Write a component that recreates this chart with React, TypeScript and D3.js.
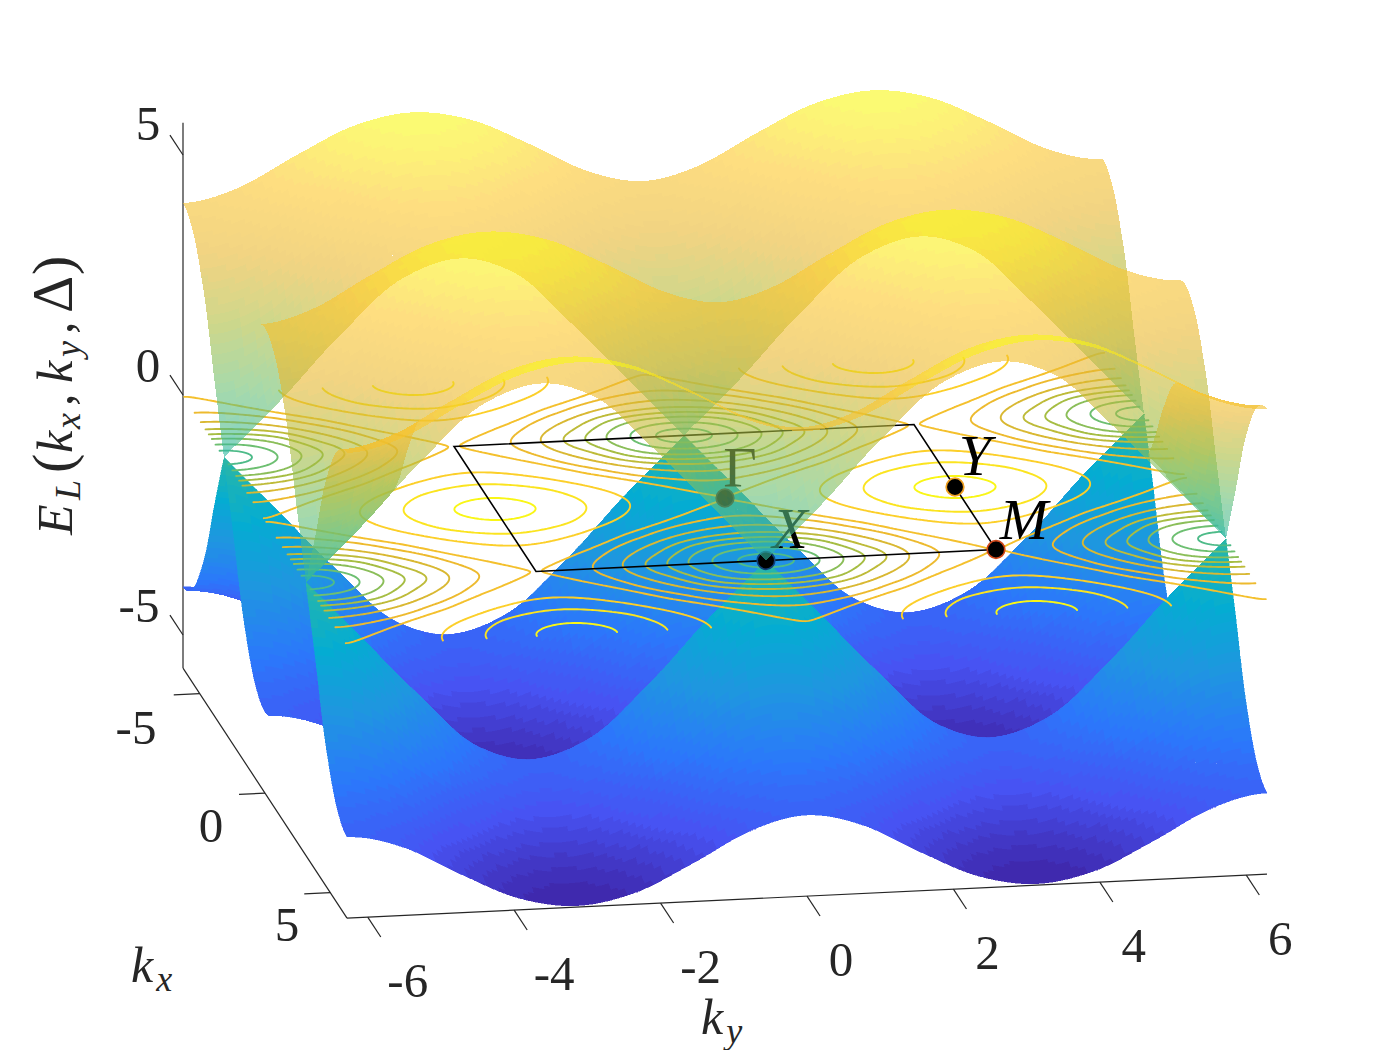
import React from "react";
import * as d3 from "d3";

const PI = Math.PI;
// Upper-band energy read from the picture over a quarter of the zone:
// rows kx = 0, pi/4 ... pi; columns ky = 0, pi/4 ... pi. The lower band mirrors it.
const BAND_ENERGY = [
  [4.0, 4.28, 4.9, 5.45, 5.66],
  [3.7, 4.0, 4.65, 5.23, 5.45],
  [2.83, 3.15, 3.9, 4.62, 4.9],
  [1.4, 1.9, 3.05, 3.95, 4.28],
  [0.0, 1.25, 2.5, 3.62, 4.0],
];
const CONTOUR_LEVELS = [0.6, 1.15, 1.68, 2.15, 2.6, 3.1, 3.62, 3.995, 4.69, 5.16, 5.55];
const KX_TICKS = [-5, 0, 5];
const KY_TICKS = [-6, -4, -2, 0, 2, 4, 6];
const Z_TICKS = [-5, 0, 5];
const BZ_CORNERS: [number, number][] = [[-PI, -PI], [-PI, PI], [PI, PI], [PI, -PI]];
const SYMMETRY_POINTS = [
  { name: "Γ", kx: 0, ky: 0, dx: 15, dy: -11, ring: "#2a2a2a", italic: false },
  { name: "X", kx: PI, ky: 0, dx: 24, dy: -13, ring: "#10407a", italic: true },
  { name: "Y", kx: 0, ky: PI, dx: 20, dy: -12, ring: "#f0a020", italic: true },
  { name: "M", kx: PI, ky: PI, dx: 28, dy: -11, ring: "#d0481a", italic: true },
];
const YLABEL_PARTS = [
  { s: "E", t: 0, sub: false, italic: true, size: 50 },
  { s: "L", t: 35, sub: true, italic: true, size: 36 },
  { s: "(", t: 62, sub: false, italic: false, size: 58 },
  { s: "k", t: 82, sub: false, italic: true, size: 50 },
  { s: "x", t: 106, sub: true, italic: true, size: 36 },
  { s: ",", t: 129, sub: false, italic: false, size: 50 },
  { s: "k", t: 152, sub: false, italic: true, size: 50 },
  { s: "y", t: 178, sub: true, italic: true, size: 36 },
  { s: ",", t: 201, sub: false, italic: false, size: 50 },
  { s: "Δ", t: 222, sub: false, italic: false, size: 58 },
  { s: ")", t: 260, sub: false, italic: false, size: 58 },
];
const PARULA = ["#3e26a8", "#4752f3", "#2b78fb", "#1f96e0", "#04acd2", "#2cb7a4", "#6cbf72", "#acbd3e", "#e9b62e", "#fdc82c", "#f9fb14"];

const ZMAX = 5.66;
const kxX = d3.scaleLinear([-2 * PI, 2 * PI], [-82, 82]);
const kxY = d3.scaleLinear([-2 * PI, 2 * PI], [-125, 125]);
const kyX = d3.scaleLinear([-2 * PI, 2 * PI], [-460, 460]);
const kyY = d3.scaleLinear([-2 * PI, 2 * PI], [22, -22]);
const zY = d3.scaleLinear([-5, 5], [240, -240]);
const project = (kx: number, ky: number, z: number): [number, number] => [
  725 + kxX(kx) + kyX(ky),
  498 + kxY(kx) + kyY(ky) + zY(z),
];

const parulaAt = d3.scaleLinear<string>(PARULA.map((_, i) => i / 10), PARULA).interpolate(d3.interpolateRgb);
const colorOf = (z: number) => {
  const t = (z + ZMAX) / (2 * ZMAX);
  const idx = Math.max(0, Math.min(63, Math.floor(t * 64)));
  return parulaAt((idx + 0.5) / 64);
};

const squared = BAND_ENERGY.map((r) => r.map((v) => v * v));
const mirror = (i: number) => {
  const m = ((i % 8) + 8) % 8;
  return m > 4 ? 8 - m : m;
};
const catmull = (a: number, b: number, c: number, d: number, t: number) =>
  0.5 * (2 * b + (c - a) * t + (2 * a - 5 * b + 4 * c - d) * t * t + (3 * b - a - 3 * c + d) * t * t * t);
const energy = (kx: number, ky: number) => {
  const u = kx / (PI / 4);
  const v = ky / (PI / 4);
  const iu = Math.floor(u + 1e-9);
  const iv = Math.floor(v + 1e-9);
  const tu = Math.max(0, u - iu);
  const tv = Math.max(0, v - iv);
  const rows = [-1, 0, 1, 2].map((di) => {
    const r = squared[mirror(iu + di)];
    return catmull(r[mirror(iv - 1)], r[mirror(iv)], r[mirror(iv + 1)], r[mirror(iv + 2)], tv);
  });
  return Math.sqrt(Math.max(0, catmull(rows[0], rows[1], rows[2], rows[3], tu)));
};

const N = 144;
const gridK = d3.range(N + 1).map((i) => -2 * PI + (4 * PI * i) / N);
const gridE = gridK.map((kx) => gridK.map((ky) => energy(kx, ky)));

type Face = { d: string; fill: string; depth: number };
const buildSheet = (sign: number): Face[] => {
  const faces: Face[] = [];
  const step = gridK[1] - gridK[0];
  for (let i = 0; i < N; i++) {
    for (let j = 0; j < N; j++) {
      const corners: [number, number][] = [[i, j], [i + 1, j], [i + 1, j + 1], [i, j + 1]];
      const zs = corners.map(([a, b]) => sign * gridE[a][b]);
      const pts = corners.map(([a, b], n) => project(gridK[a], gridK[b], zs[n]));
      let area = 0;
      for (let n = 0; n < 4; n++) {
        const p = pts[n];
        const q = pts[(n + 1) % 4];
        area += p[0] * q[1] - q[0] * p[1];
      }
      const kxm = gridK[i] + step / 2;
      const kym = gridK[j] + step / 2;
      // the reference keeps a rim of the far-side faces along ky = +-2pi
      const beyond = sign > 0 ? kxm - PI : -kxm - PI;
      const rim = beyond > 0 && 2 * PI - Math.abs(kym) < Math.min(3 * beyond, 1.1);
      if (area >= 0 && !rim) continue;
      const zm = d3.mean(zs) as number;
      faces.push({
        d: "M" + pts.map((p) => p[0].toFixed(2) + "," + p[1].toFixed(2)).join("L") + "Z",
        fill: colorOf(zm),
        depth: 3513.6 * kxm - 626.4 * kym + 1502.4 * zm,
      });
    }
  }
  return faces.sort((a, b) => a.depth - b.depth);
};
const lowerFaces = buildSheet(-1);
const upperFaces = buildSheet(1);

const contourPath = (level: number) => {
  const path = d3.path();
  const M = 288;
  const ks = d3.range(M + 1).map((i) => -2 * PI + (4 * PI * i) / M);
  const vals = ks.map((kx) => ks.map((ky) => energy(kx, ky)));
  const cross = (a: number, b: number, c: number, d: number): [number, number] | null => {
    const va = vals[a][b];
    const vb = vals[c][d];
    if ((va < level) === (vb < level)) return null;
    const t = (level - va) / (vb - va);
    return [ks[a] + t * (ks[c] - ks[a]), ks[b] + t * (ks[d] - ks[b])];
  };
  for (let i = 0; i < M; i++) {
    for (let j = 0; j < M; j++) {
      const hits = [cross(i, j, i + 1, j), cross(i + 1, j, i + 1, j + 1), cross(i + 1, j + 1, i, j + 1), cross(i, j + 1, i, j)].filter(Boolean) as [number, number][];
      for (let h = 0; h + 1 < hits.length; h += 2) {
        const p = project(hits[h][0], hits[h][1], 0);
        const q = project(hits[h + 1][0], hits[h + 1][1], 0);
        path.moveTo(p[0], p[1]);
        path.lineTo(q[0], q[1]);
      }
    }
  }
  return path.toString();
};
const contourPaths = CONTOUR_LEVELS.map((l) => ({ level: l, d: contourPath(l) }));

const FONT = "'Liberation Serif', serif";
const INK = "#262626";
const KMAX = 2 * PI;
const Z_LOW = -ZMAX - 0.03;
const Z_HIGH = ZMAX + 0.01;

const segment = (a: [number, number], b: [number, number]) => d3.line()([a, b]) as string;

export default function App() {
  const bz = d3.line()(BZ_CORNERS.map(([a, b]) => project(a, b, 0))) + "Z";
  return (
    <svg width={1400} height={1050} style={{ position: "absolute", left: 0, top: 0, background: "#fff" }} fontFamily={FONT}>
      <g fill="none" stroke={INK} strokeWidth={1.2}>
        <path d={segment(project(-KMAX, -KMAX, Z_HIGH), project(-KMAX, -KMAX, Z_LOW))} />
        <path d={segment(project(-KMAX, -KMAX, Z_LOW), project(KMAX, -KMAX, Z_LOW))} />
        <path d={segment(project(KMAX, -KMAX, Z_LOW), project(KMAX, KMAX, Z_LOW))} />
        {Z_TICKS.map((z) => (
          <path key={"z" + z} d={segment(project(-KMAX, -KMAX, z), project(-KMAX - 1, -KMAX, z))} />
        ))}
        {KX_TICKS.map((k) => (
          <path key={"kx" + k} d={segment(project(k, -KMAX, Z_LOW), project(k, -KMAX - 0.355, Z_LOW))} />
        ))}
        {KY_TICKS.map((k) => (
          <path key={"ky" + k} d={segment(project(KMAX, k, Z_LOW), project(KMAX + 1, k, Z_LOW))} />
        ))}
      </g>
      <g fontSize={49} fill={INK} textAnchor="middle">
        {Z_TICKS.map((z) => (
          <text key={z} x={z < 0 ? 139 : 148} y={z === 5 ? 140 : z === 0 ? 382 : 622}>{z}</text>
        ))}
        {KX_TICKS.map((k, i) => (
          <text key={k} x={[136, 211, 287][i]} y={[744, 842, 941][i]}>{k}</text>
        ))}
        {KY_TICKS.map((k) => {
          const [x, y] = project(KMAX, k, Z_LOW);
          return <text key={k} x={x + (k < 0 ? 40 : 34)} y={y + 80}>{k}</text>;
        })}
      </g>
      <g fontSize={50} fill={INK} fontStyle="italic">
        <text x={131} y={982}>k<tspan fontSize={36} dx={3} dy={9}>x</tspan></text>
        <text x={701} y={1034}>k<tspan fontSize={36} dx={3} dy={9}>y</tspan></text>
        <g transform="translate(72,535) rotate(-90)">
          {YLABEL_PARTS.map((p, i) => (
            <text key={i} x={p.t} y={p.sub ? 8 : 0} fontSize={p.size} fontStyle={p.italic ? "italic" : "normal"}>{p.s}</text>
          ))}
        </g>
      </g>
      <g shapeRendering="crispEdges" strokeWidth={0.5}>
        {lowerFaces.map((f, i) => (
          <path key={i} d={f.d} fill={f.fill} stroke={f.fill} />
        ))}
      </g>
      <g fill="none" strokeWidth={1.9} strokeLinecap="round">
        {contourPaths.map((c) => (
          <path key={c.level} d={c.d} stroke={parulaAt((c.level + ZMAX) / (2 * ZMAX))} />
        ))}
      </g>
      <path d={bz} fill="none" stroke="#000" strokeWidth={1.6} />
      {SYMMETRY_POINTS.map((p) => {
        const [x, y] = project(p.kx, p.ky, 0);
        return (
          <g key={p.name}>
            <circle cx={x} cy={y} r={8.8} fill="#000" stroke={p.ring} strokeWidth={1.7} />
            <text x={x + p.dx} y={y + p.dy} textAnchor="middle" fontSize={58} fontStyle={p.italic ? "italic" : "normal"} fill="#000">{p.name}</text>
          </g>
        );
      })}
      <g shapeRendering="crispEdges" fillOpacity={0.6}>
        {upperFaces.map((f, i) => (
          <path key={i} d={f.d} fill={f.fill} />
        ))}
      </g>
    </svg>
  );
}
